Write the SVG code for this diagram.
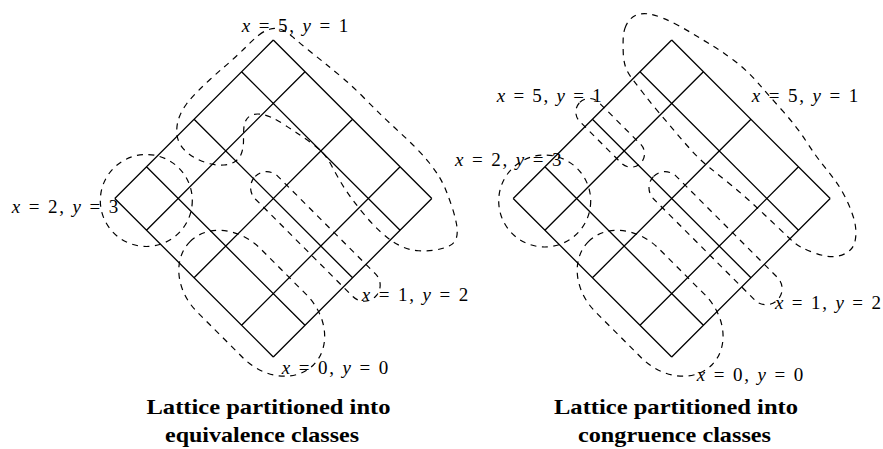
<svg xmlns="http://www.w3.org/2000/svg" width="883" height="449" viewBox="0 0 883 449">
<style>
.grid{fill:none;stroke:#000;stroke-width:1.3}
.cls{fill:none;stroke:#000;stroke-width:1.2;stroke-dasharray:6 5.5}
.lbl{font-size:19px;fill:#000}
.v{font-style:italic}
.cap{font-size:21px;font-weight:bold;fill:#000}
</style>
<defs>
<path id="lattice" class="grid" d="M273.3,357 L114.8,198.5 M305,325.3 L146.5,166.8 M352.55,277.75 L194.05,119.25 M400.1,230.2 L241.6,71.7 M431.8,198.5 L273.3,40 M273.3,357 L431.8,198.5 M241.6,325.3 L400.1,166.8 M194.05,277.75 L352.55,119.25 M146.5,230.2 L305,71.7 M114.8,198.5 L273.3,40"/>
</defs>
<rect width="883" height="449" fill="#fff"/>

<g id="left-diagram">
  <g id="left-lattice"><use href="#lattice"/></g>
  <g id="left-classes">
    <g id="eq-x2-y3"><circle class="cls" cx="146.3" cy="200.5" r="46"/></g>
    <g id="eq-x0-y0" transform="translate(273.3,357) rotate(-45)"><rect class="cls" x="-22" y="-140.5" width="89.5" height="174.5" rx="44.75" ry="55"/></g>
    <g id="eq-x1-y2" transform="translate(273.3,357) rotate(-45)"><rect class="cls" x="99" y="-140.5" width="32" height="170" rx="16" ry="16"/></g>
    <g id="eq-x5-y1"><path class="cls" d="M 259,35 Q 264,31 269.5,29.25 Q 275,27.5 280.5,29.25 Q 286,31 293,37.15 Q 300,43.3 308.35,50 Q 316.7,56.7 325,63.35 Q 333.3,70 343.3,78.5 Q 353.3,87 363.15,97 Q 373,107 381.5,115.25 Q 390,123.5 398.5,131.25 Q 407,139 415,147 Q 423,155 429,162.5 Q 435,170 439,176.5 Q 443,183 446,190.5 Q 449,198 452,207 Q 455,216 456.5,224 Q 458,232 456.5,237.5 Q 455,243 449.5,245.75 Q 444,248.5 435.5,250 Q 427,251.5 418.5,250.75 Q 410,250 404,247.5 Q 398,245 393,241.75 Q 388,238.5 380.5,231.75 Q 373,225 365.5,216 Q 358,207 352,199 Q 346,191 341,182.5 Q 336,174 331.5,165.5 Q 327,157 322,152 Q 317,147 310,142 Q 303,137 296.5,132.65 Q 290,128.3 283.5,124.15 Q 277,120 271.5,117.5 Q 266,115 261,114.25 Q 256,113.5 252,115 Q 248,116.5 246,120.25 Q 244,124 243.75,129.5 Q 243.5,135 243.5,141 Q 243.5,147 241.75,152.5 Q 240,158 235.5,161.25 Q 231,164.5 224,165 Q 217,165.5 210,163.75 Q 203,162 197,159 Q 191,156 186,151.5 Q 181,147 178.75,141.5 Q 176.5,136 176.75,129.5 Q 177,123 179.5,116.5 Q 182,110 186.5,104 Q 191,98 197,92 Q 203,86 210,79.5 Q 217,73 223.5,67.5 Q 230,62 236.5,56 Q 243,50 248.5,44.5 Q 254,39 259,35 Z"/></g>
  </g>
  <g id="left-labels" font-family="'Liberation Serif', 'DejaVu Serif', serif">
    <text class="lbl" x="241.7" y="31.5" textLength="106.5" lengthAdjust="spacing"><tspan class="v">x</tspan> = 5, <tspan class="v">y</tspan> = 1</text>
    <text class="lbl" x="11.7" y="213" textLength="106.5" lengthAdjust="spacing"><tspan class="v">x</tspan> = 2, <tspan class="v">y</tspan> = 3</text>
    <text class="lbl" x="361.7" y="301" textLength="106.5" lengthAdjust="spacing"><tspan class="v">x</tspan> = 1, <tspan class="v">y</tspan> = 2</text>
    <text class="lbl" x="281.7" y="373.5" textLength="106.5" lengthAdjust="spacing"><tspan class="v">x</tspan> = 0, <tspan class="v">y</tspan> = 0</text>
    <text class="cap" x="146.5" y="414" textLength="244" lengthAdjust="spacingAndGlyphs">Lattice partitioned into</text>
    <text class="cap" x="165" y="442" textLength="194" lengthAdjust="spacingAndGlyphs">equivalence classes</text>
  </g>
</g>

<g id="right-diagram">
  <g id="right-lattice"><use href="#lattice" x="398.4"/></g>
  <g id="right-classes">
    <g id="cg-x2-y3"><circle class="cls" cx="544.7" cy="201" r="46"/></g>
    <g id="cg-x0-y0" transform="translate(671.7,357) rotate(-45)"><rect class="cls" x="-22" y="-140.5" width="89.5" height="174.5" rx="44.75" ry="55"/></g>
    <g id="cg-x1-y2" transform="translate(671.7,357) rotate(-45)"><rect class="cls" x="99" y="-140.5" width="32" height="175" rx="16" ry="16"/></g>
    <g id="cg-x5-y1-a" transform="translate(671.7,357) rotate(-45)"><rect class="cls" x="101.5" y="-245" width="27" height="86" rx="13.5" ry="13.5"/></g>
    <g id="cg-x5-y1-b"><path class="cls" d="M 624.9,28.4 Q 626.5,23.5 629.75,19.75 Q 633,16 638,14.5 Q 643,13 649,14 Q 655,15 662.5,18 Q 670,21 678.35,25.5 Q 686.7,30 694.85,35 Q 703,40 711.5,45 Q 720,50 733.35,60 Q 746.7,70 758.35,83.35 Q 770,96.7 783.35,111.7 Q 796.7,126.7 805.85,140.85 Q 815,155 821.5,163 Q 828,171 834,179 Q 840,187 845,196.85 Q 850,206.7 853.25,216.7 Q 856.5,226.7 855.75,236.35 Q 855,246 850,250.25 Q 845,254.5 839,255.9 Q 833,257.3 826.5,256.15 Q 820,255 813.35,252.5 Q 806.7,250 801.7,247.5 Q 796.7,245 792.35,241 Q 788,237 777,226.5 Q 766,216 754.65,205.5 Q 743.3,195 731.65,185.5 Q 720,176 710,168 Q 700,160 691.5,150.5 Q 683,141 674.85,131.35 Q 666.7,121.7 658.35,111.85 Q 650,102 643.5,93.5 Q 637,85 632,78.5 Q 627,72 625.25,66 Q 623.5,60 623.25,53 Q 623,46 623.15,39.65 Q 623.3,33.3 624.9,28.4 Z"/></g>
  </g>
  <g id="right-labels" font-family="'Liberation Serif', 'DejaVu Serif', serif">
    <text class="lbl" x="496.7" y="102" textLength="105" lengthAdjust="spacing"><tspan class="v">x</tspan> = 5, <tspan class="v">y</tspan> = 1</text>
    <text class="lbl" x="751.7" y="102" textLength="106.5" lengthAdjust="spacing"><tspan class="v">x</tspan> = 5, <tspan class="v">y</tspan> = 1</text>
    <text class="lbl" x="455" y="166" textLength="106.5" lengthAdjust="spacing"><tspan class="v">x</tspan> = 2, <tspan class="v">y</tspan> = 3</text>
    <text class="lbl" x="775" y="309" textLength="106" lengthAdjust="spacing"><tspan class="v">x</tspan> = 1, <tspan class="v">y</tspan> = 2</text>
    <text class="lbl" x="696.7" y="381" textLength="106.5" lengthAdjust="spacing"><tspan class="v">x</tspan> = 0, <tspan class="v">y</tspan> = 0</text>
    <text class="cap" x="554" y="414" textLength="244" lengthAdjust="spacingAndGlyphs">Lattice partitioned into</text>
    <text class="cap" x="578" y="442" textLength="193" lengthAdjust="spacingAndGlyphs">congruence classes</text>
  </g>
</g>
</svg>
